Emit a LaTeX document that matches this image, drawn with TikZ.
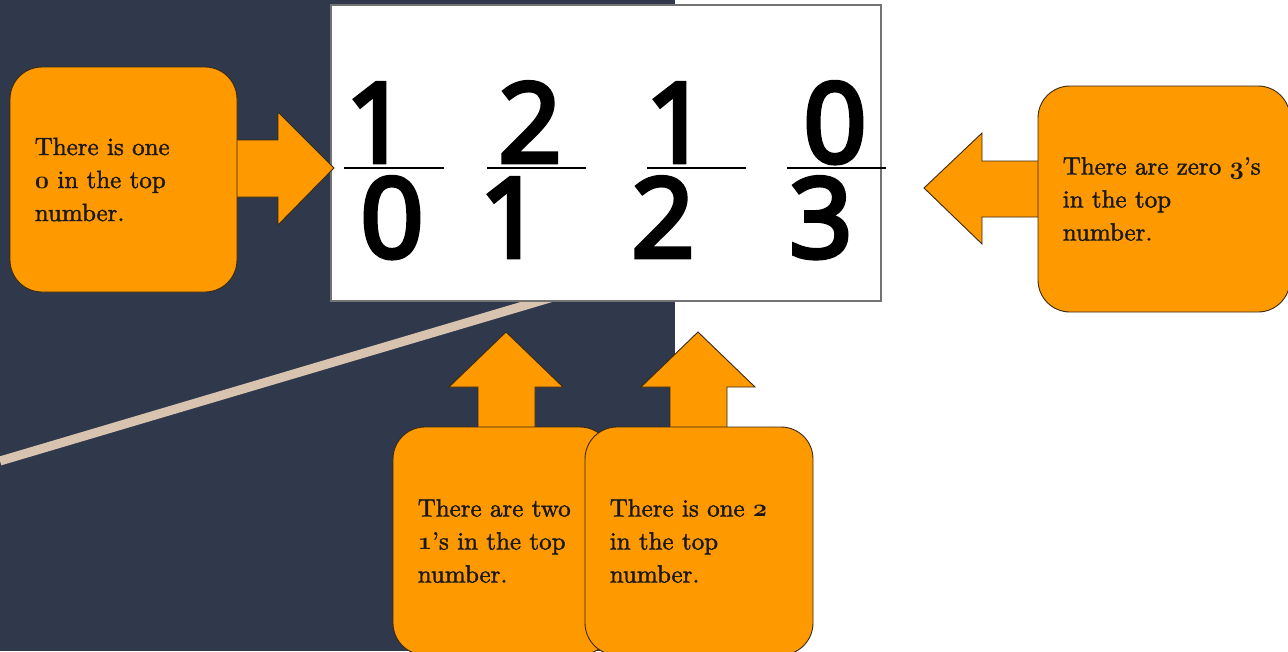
\documentclass[tikz,border=0pt]{standalone}
\usepackage{fontspec}
\newfontfamily\digitfont{Open Sans}[FakeBold=4.5]
\newfontfamily\cardfont{lmroman10-regular}[Extension=.otf, Ligatures=TeX, FakeBold=1.6]
\newcommand{\osn}[1]{{\usefont{OML}{cmm}{b}{it}#1}}
\usetikzlibrary{positioning}
\definecolor{slate}{HTML}{2F394B}
\definecolor{tangerine}{HTML}{FF9900}
\definecolor{sand}{HTML}{D8C3B0}
\definecolor{rim}{HTML}{3A2A12}

\begin{document}
\begin{tikzpicture}[
  x=1pt, y=-1pt,
  card/.style={
    draw=rim, line width=0.9pt, fill=tangerine,
    rounded corners=32pt, inner sep=0pt
  },
  cardtext/.style={
    align=left, inner sep=0pt, text=black!90,
    font=\cardfont\fontsize{25}{33}\selectfont
  },
  blockarrow/.style={draw=rim, line width=0.9pt, fill=tangerine, line join=miter},
  board/.style={draw=black!55, line width=1.6pt, fill=white, inner sep=0pt},
  digit/.style={font=\digitfont\fontsize{110}{110}\selectfont, anchor=base,
    inner sep=0pt, text height=79pt, text depth=0pt},
  fracbar/.style={draw=black, line width=1.4pt}
]
  \useasboundingbox (0,0) rectangle (1288,651);
  \clip (0,0) rectangle (1288,651);

  % background
  \fill[white] (0,0) rectangle (1288,651);
  \fill[slate] (0,0) rectangle (675,651);
  \coordinate (slashA) at (0,461);
  \coordinate (slashB) at (560,295);
  \draw[sand, line width=9pt] (slashA) -- (slashB);

  % the fractions
  \node[board, minimum width=550pt, minimum height=296pt] (board) at (606,153) {};

  \node[digit] (n1) at (377,162) {1};
  \node[digit] (d1) at (392,257) {0};
  \node[digit] (n2) at (530,162) {2};
  \node[digit] (d2) at (511,257) {1};
  \node[digit] (n3) at (677,162) {1};
  \node[digit] (d3) at (663,257) {2};
  \node[digit] (n4) at (835,162) {0};
  \node[digit] (d4) at (821,257) {3};

  \draw[fracbar] (344,168) -- (444,168);
  \draw[fracbar] (487,168) -- (586,168);
  \draw[fracbar] (647,168) -- (746,168);
  \draw[fracbar] (787,168) -- (886,168);

  % block arrows
  \draw[blockarrow] (225,140) -- (278,140) -- (278,112) -- (334,168)
    -- (278,225) -- (278,197) -- (225,197) -- cycle;
  \draw[blockarrow] (1050,161) -- (982,161) -- (982,133) -- (924,188)
    -- (982,244) -- (982,217) -- (1050,217) -- cycle;
  \draw[blockarrow] (478,440) -- (478,387) -- (449,387) -- (506,332)
    -- (563,387) -- (535,387) -- (535,440) -- cycle;
  \draw[blockarrow] (670,440) -- (670,387) -- (641,387) -- (698,332)
    -- (755,387) -- (727,387) -- (727,440) -- cycle;

  % cards
  \node[card, minimum width=227pt, minimum height=225pt] (zeros) at (123.5,179.5) {};
  \node[card, minimum width=252pt, minimum height=226pt] (threes) at (1164,199) {};
  \node[card, minimum width=219pt, minimum height=228pt] (ones) at (502.5,541) {};
  \node[card, minimum width=228pt, minimum height=228pt] (twos) at (699,541) {};

  \node[cardtext, right=25pt of zeros.west, anchor=west] (zerostext)
    {There is one\\\osn{0} in the top\\number.};
  \node[cardtext, right=25pt of threes.west, anchor=west] (threestext)
    {There are zero \osn{3}'s\\in the top\\number.};
  \node[cardtext, right=25pt of ones.west, anchor=west] (onestext)
    {There are two\\\osn{1}'s in the top\\number.};
  \node[cardtext, right=25pt of twos.west, anchor=west] (twostext)
    {There is one \osn{2}\\in the top\\number.};
\end{tikzpicture}
\end{document}
